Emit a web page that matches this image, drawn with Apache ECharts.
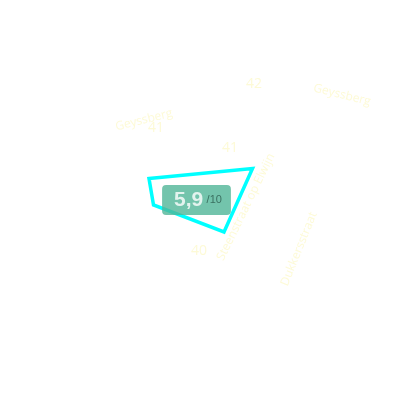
<!DOCTYPE html>
<html>
<head>
<meta charset="utf-8">
<script src="https://cdn.jsdelivr.net/npm/echarts@6/dist/echarts.min.js"></script>
<style>
  html, body { margin: 0; padding: 0; background: #fff; }
  #main { width: 400px; height: 400px; }
</style>
</head>
<body>
<div id="main"></div>
<script>
// plot outline (map units, 0..400 each way)
var shapeX = [149, 252.5, 224, 153.5];
var shapeY = [178.5, 168.5, 232, 205];

// score shown on the badge
var score = 5.9;
var scoreMax = 10;
var scoreAt = [196.5, 200];

// faint street names and house numbers of the base map
var streetNames = ['Geyssberg', '41', '42', 'Geyssberg', '41', 'Steenstraat op Elwijn', '40', 'Dukkersstraat'];
var streetX = [144, 156, 254, 342, 230, 246, 199, 299];
var streetY = [120, 128, 84, 95, 148, 207, 251, 249];
var streetAngle = [14, 0, 0, -14, 0, 64, 0, 68];

var myChart = echarts.init(document.getElementById('main'));

var streetData = streetNames.map(function (n, i) {
  var big = /^\d+$/.test(n);
  return {
    value: [streetX[i], streetY[i]],
    name: n,
    label: { rotate: streetAngle[i], fontSize: big ? 14 : 12 }
  };
});

var option = {
  animation: false,
  grid: { left: 0, right: 0, top: 0, bottom: 0 },
  xAxis: { type: 'value', min: 0, max: 400, show: false },
  yAxis: { type: 'value', min: 0, max: 400, inverse: true, show: false },
  series: [
    {
      type: 'scatter',
      symbolSize: 0,
      silent: true,
      data: streetData,
      label: {
        show: true,
        position: 'inside',
        formatter: '{b}',
        color: '#fcf9cc',
        fontFamily: 'Open Sans'
      }
    },
    {
      type: 'custom',
      silent: true,
      data: [[0]],
      renderItem: function (params, api) {
        var pts = shapeX.map(function (x, i) { return api.coord([x, shapeY[i]]); });
        return {
          type: 'polygon',
          shape: { points: pts },
          style: { fill: 'none', stroke: '#00ffff', lineWidth: 3.5, lineJoin: 'miter' }
        };
      }
    },
    {
      type: 'scatter',
      symbolSize: 0,
      silent: true,
      z: 5,
      data: [scoreAt],
      label: {
        show: true,
        position: 'inside',
        backgroundColor: '#50b597',
        borderRadius: 4,
        padding: [4, 9, 4, 12],
        formatter: function () {
          return '{a|' + String(score).replace('.', ',') + '} {b|/' + scoreMax + '}';
        },
        rich: {
          a: { color: '#fff', fontSize: 21, fontWeight: 'bold', fontFamily: 'Liberation Sans', lineHeight: 22 },
          b: { color: '#2c5b4d', fontSize: 11, fontFamily: 'Liberation Sans', lineHeight: 22 }
        }
      }
    }
  ]
};

myChart.setOption(option);
</script>
</body>
</html>
